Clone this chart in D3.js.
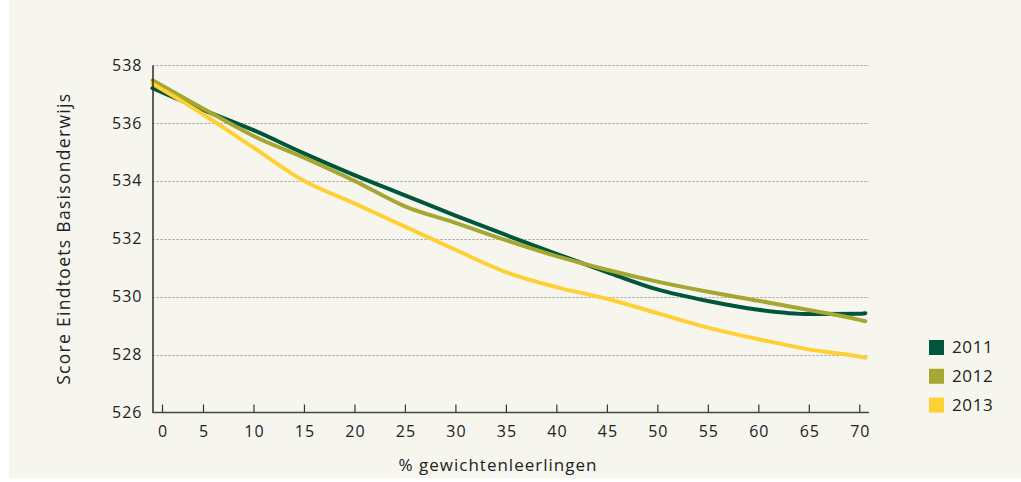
<!DOCTYPE html>
<html>
<head>
<meta charset="utf-8">
<script src="https://cdn.jsdelivr.net/npm/d3@7"></script>
<style>
  html, body { margin: 0; padding: 0; background: #ffffff; }
  svg { display: block; font-family: "Open Sans", "Noto Sans", sans-serif; }
</style>
</head>
<body>
<div id="chart"></div>
<script>
// Data
const percents = [0, 5, 10, 15, 20, 25, 30, 35, 40, 45, 50, 55, 60, 65, 70, 70.6];
const score2011 = [537.2, 536.45, 535.75, 534.95, 534.2, 533.5, 532.8, 532.13, 531.48, 530.85, 530.25, 529.85, 529.55, 529.4, 529.41, 529.43];
const score2012 = [537.47, 536.5, 535.55, 534.8, 534.0, 533.12, 532.55, 531.95, 531.4, 530.93, 530.52, 530.17, 529.86, 529.54, 529.2, 529.15];
const score2013 = [537.35, 536.3, 535.15, 534.0, 533.22, 532.42, 531.62, 530.85, 530.33, 529.93, 529.43, 528.93, 528.53, 528.18, 527.93, 527.89];
const years = ['2011', '2012', '2013'];
const xTicks = [0, 5, 10, 15, 20, 25, 30, 35, 40, 45, 50, 55, 60, 65, 70];
const yTicks = [526, 528, 530, 532, 534, 536, 538];

///////// Initialization //////////
const width = 1021;
const height = 482;
const plot = { left: 152.5, right: 859.3, top: 65, bottom: 412.5, axisEnd: 869 };

const svg = d3
  .select('#chart')
  .append('svg')
  .attr('width', width)
  .attr('height', height);

// panel background
svg
  .append('rect')
  .attr('x', 9)
  .attr('y', 0)
  .attr('width', width - 9)
  .attr('height', 478)
  .attr('fill', '#f7f6ee');

const xScale = d3.scaleLinear().domain([0, 70]).range([plot.left, plot.right]);
const yScale = d3.scaleLinear().domain([526, 538]).range([plot.bottom, plot.top]);
const colorScale = d3
  .scaleOrdinal()
  .domain(years)
  .range(['#00563b', '#a6a733', '#ffd033']);

// Gridlines (dotted)
svg
  .append('g')
  .selectAll('line')
  .data(yTicks.filter((d) => d !== 526))
  .enter()
  .append('line')
  .attr('x1', plot.left)
  .attr('x2', plot.axisEnd)
  .attr('y1', (d) => Math.round(yScale(d)) + 0.5)
  .attr('y2', (d) => Math.round(yScale(d)) + 0.5)
  .attr('stroke', '#9a9a94')
  .attr('stroke-width', 1.2)
  .attr('stroke-dasharray', '2,2');

// Lines
const series = [score2011, score2012, score2013];
const line = d3
  .line()
  .x((d) => xScale(d[0]))
  .y((d) => yScale(d[1]))
  .curve(d3.curveMonotoneX);

series.forEach((values, i) => {
  svg
    .append('path')
    .datum(percents.map((p, j) => [p, values[j]]))
    .attr('fill', 'none')
    .attr('stroke', colorScale(years[i]))
    .attr('stroke-width', 4)
    .attr('stroke-linejoin', 'round')
    .attr('stroke-linecap', 'round')
    .attr('d', line);
});

// Y axis
const yAxis = d3.axisLeft(yScale).tickValues(yTicks).tickSize(0).tickPadding(10);
const yAxisGroup = svg
  .append('g')
  .attr('transform', 'translate(' + plot.left + ',0)')
  .call(yAxis);
yAxisGroup.select('.domain').attr('stroke', '#2b2b2b').attr('stroke-width', 1.5);
yAxisGroup
  .selectAll('text')
  .attr('font-size', 16)
  .attr('letter-spacing', 1)
  .attr('fill', '#222')
  .attr('font-family', '"Open Sans", "Noto Sans", sans-serif');

// X axis
const xAxis = d3.axisBottom(xScale).tickValues(xTicks).tickSize(-8).tickPadding(13);
const xAxisGroup = svg
  .append('g')
  .attr('transform', 'translate(0,' + plot.bottom + ')')
  .call(xAxis);
xAxisGroup.select('.domain').remove();
xAxisGroup
  .append('line')
  .attr('x1', plot.left)
  .attr('x2', plot.axisEnd)
  .attr('stroke', '#444')
  .attr('stroke-width', 1.5);
xAxisGroup.selectAll('.tick line').attr('stroke', '#333').attr('stroke-width', 1.2);
xAxisGroup
  .selectAll('text')
  .attr('font-size', 16)
  .attr('letter-spacing', 1)
  .attr('dx', '0.5')
  .attr('fill', '#222')
  .attr('font-family', '"Open Sans", "Noto Sans", sans-serif');
// the 0 tick sits a little right of the axis in the original
xAxisGroup
  .selectAll('.tick')
  .filter((d) => d === 0)
  .attr('transform', 'translate(' + (xScale(0) + 10) + ',0)');

// Axis titles
svg
  .append('text')
  .attr('transform', 'translate(70,' + (plot.top + plot.bottom) / 2 + ') rotate(-90)')
  .attr('text-anchor', 'middle')
  .attr('font-size', 17.5)
  .attr('letter-spacing', 1.3)
  .attr('fill', '#222')
  .text('Score Eindtoets Basisonderwijs');

svg
  .append('text')
  .attr('x', 498)
  .attr('y', 471)
  .attr('text-anchor', 'middle')
  .attr('font-size', 17)
  .attr('letter-spacing', 1)
  .attr('fill', '#222')
  .text('% gewichtenleerlingen');

// Legend
const legend = svg
  .append('g')
  .selectAll('g')
  .data(years)
  .enter()
  .append('g')
  .attr('transform', (d, i) => 'translate(929,' + (340 + i * 28.8) + ')');

legend
  .append('rect')
  .attr('width', 15)
  .attr('height', 15)
  .attr('fill', (d) => colorScale(d));

legend
  .append('text')
  .attr('x', 23)
  .attr('y', 7.5)
  .attr('dy', '0.35em')
  .attr('font-size', 17)
  .attr('letter-spacing', 0.6)
  .attr('fill', '#222')
  .text((d) => d);
</script>
</body>
</html>
